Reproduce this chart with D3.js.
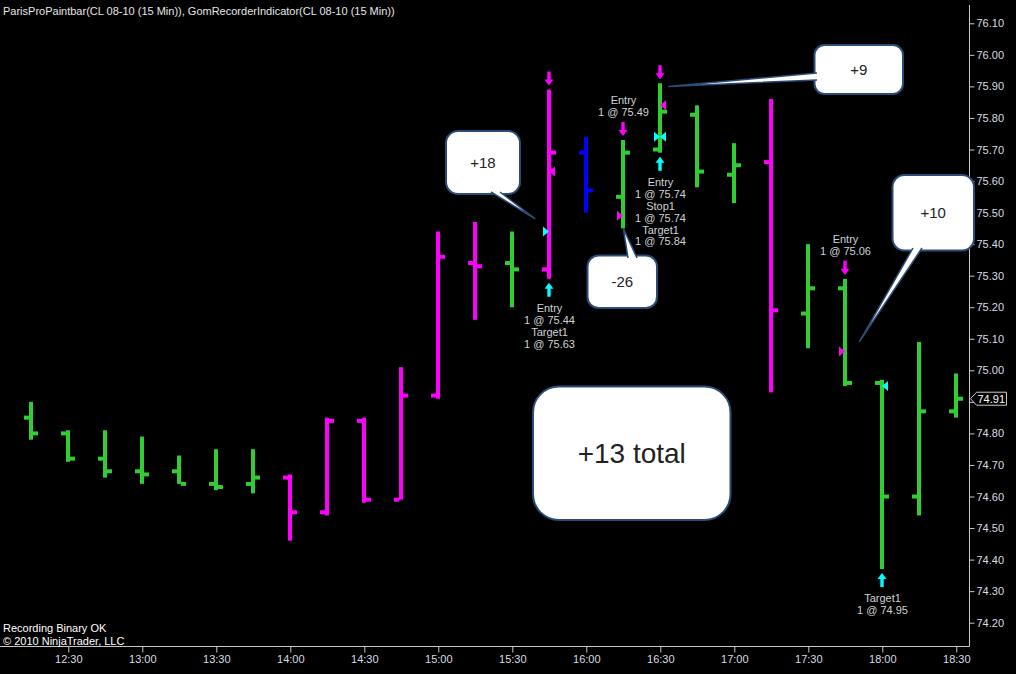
<!DOCTYPE html>
<html>
<head>
<meta charset="utf-8">
<script src="https://cdn.jsdelivr.net/npm/d3@7"></script>
<style>
  body { margin: 0; background: #000; }
  svg { display: block; font-family: "Liberation Sans", Arial, sans-serif; }
</style>
</head>
<body>
<svg id="chart" width="1016" height="674"></svg>
<script>
// bars, 15 min
var times = ["12:15","12:30","12:45","13:00","13:15","13:30","13:45","14:00","14:15","14:30","14:45","15:00","15:15",
             "15:30","15:45","16:00","16:15","16:30","16:45","17:00","17:15","17:30","17:45","18:00","18:15","18:30"];
var opens  = [74.85,74.80,74.72,74.68,74.68,74.64,74.64,74.66,74.55,74.84,74.59,74.92,75.34,
              75.34,75.32,75.69,75.55,75.70,75.81,75.62,75.66,75.18,75.26,74.96,74.60,74.87];
var highs  = [74.90,74.81,74.81,74.79,74.73,74.75,74.75,74.67,74.85,74.85,75.01,75.44,75.47,
              75.44,75.89,75.74,75.73,75.91,75.84,75.72,75.86,75.40,75.29,74.97,75.09,74.99];
var lows   = [74.78,74.71,74.66,74.64,74.64,74.62,74.61,74.46,74.54,74.58,74.59,74.91,75.16,
              75.20,75.29,75.50,75.45,75.69,75.58,75.53,74.93,75.07,74.95,74.37,74.54,74.85];
var closes = [74.80,74.72,74.68,74.67,74.64,74.63,74.66,74.55,74.84,74.59,74.92,75.36,75.33,
              75.32,75.69,75.57,75.69,75.82,75.63,75.65,75.19,75.26,74.96,74.60,74.87,74.91];
var paint  = ["g","g","g","g","g","g","g","m","m","m","m","m","m",
              "g","m","b","g","g","g","g","m","g","g","g","g","g"];

var yTicks = [74.20,74.30,74.40,74.50,74.60,74.70,74.80,74.90,75.00,75.10,75.20,75.30,75.40,75.50,75.60,75.70,75.80,75.90,76.00,76.10];
var xTicks = ["12:30","13:00","13:30","14:00","14:30","15:00","15:30","16:00","16:30","17:00","17:30","18:00","18:30"];
var lastPrice = 74.91;

// trade markers
var fillTimes  = ["15:45","15:45","16:15","16:30","16:30","16:30","17:45","18:00"];
var fillPrices = [75.44,75.63,75.49,75.84,75.74,75.74,75.06,74.95];
var fillSides  = ["L","R","L","R","L","R","L","R"];
var fillColors = ["c","m","m","m","c","c","m","c"];

var arrowTimes  = ["15:45","15:45","16:15","16:30","16:30","17:45","18:00"];
var arrowSides  = ["above","below","above","above","below","above","below"];

var labelTimes = ["15:45","16:15","16:30","17:45","18:00"];
var labelSides = ["below","above","below","above","below"];
var labelLines = [
  ["Entry","1 @ 75.44","Target1","1 @ 75.63"],
  ["Entry","1 @ 75.49"],
  ["Entry","1 @ 75.74","Stop1","1 @ 75.74","Target1","1 @ 75.84"],
  ["Entry","1 @ 75.06"],
  ["Target1","1 @ 74.95"]
];

var calloutTexts  = ["+18","-26","+9","+10","+13 total"];
var calloutTimes  = ["15:45","16:15","16:30","17:45",null];
var calloutPrices = [75.48,75.45,75.90,75.09,null];

var colors = {g: "#32cd32", m: "#ff00ff", b: "#0000ff", c: "#00ffff"};

var parse = d3.timeParse("%H:%M");
var svg = d3.select("#chart");
svg.append("rect").attr("width", 1016).attr("height", 674).attr("fill", "#000");

var x = d3.scaleTime().domain([parse("12:30"), parse("18:30")]).range([68.3, 956.3]);
var y = d3.scaleLinear().domain([74.2, 76.1]).range([622.7, 23.3]);
var axisX = 969.5, axisY = 646.5;

// axes
svg.append("line").attr("x1", axisX).attr("x2", axisX).attr("y1", 5).attr("y2", axisY)
  .attr("stroke", "#c8c8c8");
svg.append("line").attr("x1", 0).attr("x2", axisX).attr("y1", axisY).attr("y2", axisY)
  .attr("stroke", "#c8c8c8");

var yAxis = d3.axisRight(y).tickValues(yTicks).tickSize(5).tickPadding(2).tickFormat(d3.format(".2f"));
var gy = svg.append("g").attr("transform", "translate(" + axisX + ",0)").call(yAxis);
var xAxis = d3.axisBottom(x).tickValues(xTicks.map(parse)).tickSize(6).tickPadding(3).tickFormat(d3.timeFormat("%H:%M"));
var gx = svg.append("g").attr("transform", "translate(0," + axisY + ")").call(xAxis);
[gy, gx].forEach(function (g) {
  g.select(".domain").remove();
  g.selectAll("line").attr("stroke", "#c8c8c8");
  g.selectAll("text").attr("fill", "#d8dde3").attr("font-size", 11).attr("font-family", "Liberation Sans, Arial, sans-serif");
});
// the last-price marker sits over the nearest tick label
gy.selectAll(".tick").filter(function (d) { return Math.abs(y(d) - y(lastPrice)) < 8; })
  .select("text").remove();

// OHLC bars
var bars = times.map(function (t, i) {
  return {t: parse(t), o: opens[i], h: highs[i], l: lows[i], c: closes[i], col: colors[paint[i]]};
});
var gb = svg.append("g");
bars.forEach(function (d) {
  var cx = Math.round(x(d.t));
  gb.append("rect").attr("x", cx - 2).attr("width", 4)
    .attr("y", y(d.h)).attr("height", y(d.l) - y(d.h)).attr("fill", d.col);
  gb.append("rect").attr("x", cx - 7).attr("width", 5)
    .attr("y", y(d.o) - 2).attr("height", 4).attr("fill", d.col);
  gb.append("rect").attr("x", cx + 2).attr("width", 5)
    .attr("y", y(d.c) - 2).attr("height", 4).attr("fill", d.col);
});

function barAt(t) {
  return bars[times.indexOf(t)];
}

// fill triangles
fillTimes.forEach(function (t, i) {
  var cx = Math.round(x(parse(t))), py = y(fillPrices[i]);
  var pts = fillSides[i] == "L"
    ? [[cx - 6, py - 5], [cx, py], [cx - 6, py + 5]]
    : [[cx + 6, py - 5], [cx, py], [cx + 6, py + 5]];
  svg.append("polygon").attr("points", pts.join(" ")).attr("fill", colors[fillColors[i]]);
});

// arrows
arrowTimes.forEach(function (t, i) {
  var b = barAt(t), cx = Math.round(x(b.t));
  var p;
  if (arrowSides[i] == "above") {
    var tip = y(b.h) - 4;
    p = [[cx - 1.7, tip - 14], [cx + 1.7, tip - 14], [cx + 1.7, tip - 6], [cx + 4.5, tip - 6],
         [cx, tip], [cx - 4.5, tip - 6], [cx - 1.7, tip - 6]];
    svg.append("polygon").attr("points", p.join(" ")).attr("fill", colors.m);
  } else {
    var tip2 = y(b.l) + 4;
    p = [[cx - 1.7, tip2 + 14], [cx + 1.7, tip2 + 14], [cx + 1.7, tip2 + 6], [cx + 4.5, tip2 + 6],
         [cx, tip2], [cx - 4.5, tip2 + 6], [cx - 1.7, tip2 + 6]];
    svg.append("polygon").attr("points", p.join(" ")).attr("fill", colors.c);
  }
});

// trade labels
labelTimes.forEach(function (t, i) {
  var b = barAt(t), cx = Math.round(x(b.t)) + 0.5;
  var lines = labelLines[i];
  var y0 = labelSides[i] == "below" ? y(b.l) + 29.5 : y(b.h) - 28 - (lines.length - 1) * 11.9;
  var txt = svg.append("text").attr("text-anchor", "middle").attr("fill", "#cfd2d6")
    .attr("font-size", 11);
  lines.forEach(function (s, k) {
    txt.append("tspan").attr("x", cx).attr("y", y0 + k * 11.9).attr("dy", "0.35em").text(s);
  });
});

// callouts: box layout [x0, y0, x1, y1, radius, fontSize, tail base a, tail base b, tip dx]
var calloutLayout = [
  [446, 131, 520, 194, 12, 15, [491, 192], [500, 192], -14],
  [587.5, 255.5, 657, 308, 11, 15, [628, 258], [637, 258], 0],
  [814.5, 45, 903, 94, 10, 15, [817, 73], [817, 80], 8],
  [892.5, 175, 974, 250.5, 12, 15, [913, 248], [922, 248], 14],
  [533, 386.5, 730.5, 520, 26, 28, null, null, 0]
];
var boxStroke = "#2a4d78";
calloutTexts.forEach(function (s, i) {
  var L = calloutLayout[i];
  var g = svg.append("g");
  g.append("rect").attr("x", L[0]).attr("y", L[1]).attr("width", L[2] - L[0]).attr("height", L[3] - L[1])
    .attr("rx", L[4]).attr("fill", "#fff").attr("stroke", boxStroke).attr("stroke-width", 2);
  if (L[6]) {
    var tip = [x(parse(calloutTimes[i])) + L[8], y(calloutPrices[i])];
    g.append("path").attr("d", "M" + L[6] + "L" + tip + "L" + L[7])
      .attr("fill", "#fff").attr("stroke", boxStroke).attr("stroke-width", 1.5);
  }
  g.append("text").attr("x", (L[0] + L[2]) / 2).attr("y", (L[1] + L[3]) / 2).attr("dy", "0.36em")
    .attr("text-anchor", "middle").attr("font-size", L[5]).attr("fill", "#222").text(s);
});

// last price marker
var lp = y(lastPrice);
svg.append("path")
  .attr("d", "M" + (axisX + 1) + "," + lp + "L" + (axisX + 7) + "," + (lp - 6.5) + "L1006.5," + (lp - 6.5) +
             "L1006.5," + (lp + 6.5) + "L" + (axisX + 7) + "," + (lp + 6.5) + "Z")
  .attr("fill", "#000").attr("stroke", "#c8c8c8");
svg.append("text").attr("x", axisX + 8).attr("y", lp).attr("dy", "0.36em")
  .attr("font-size", 11).attr("fill", "#fff").text(lastPrice.toFixed(2));

// title + footer
svg.append("text").attr("x", 3).attr("y", 15).attr("font-size", 11)
  .attr("fill", "#e6e6e6").text("ParisProPaintbar(CL 08-10 (15 Min)), GomRecorderIndicator(CL 08-10 (15 Min))");
svg.append("text").attr("x", 3).attr("y", 632).attr("font-size", 11)
  .attr("fill", "#fff").text("Recording Binary OK");
svg.append("text").attr("x", 3).attr("y", 645).attr("font-size", 11)
  .attr("fill", "#fff").text("© 2010 NinjaTrader, LLC");
</script>
</body>
</html>
